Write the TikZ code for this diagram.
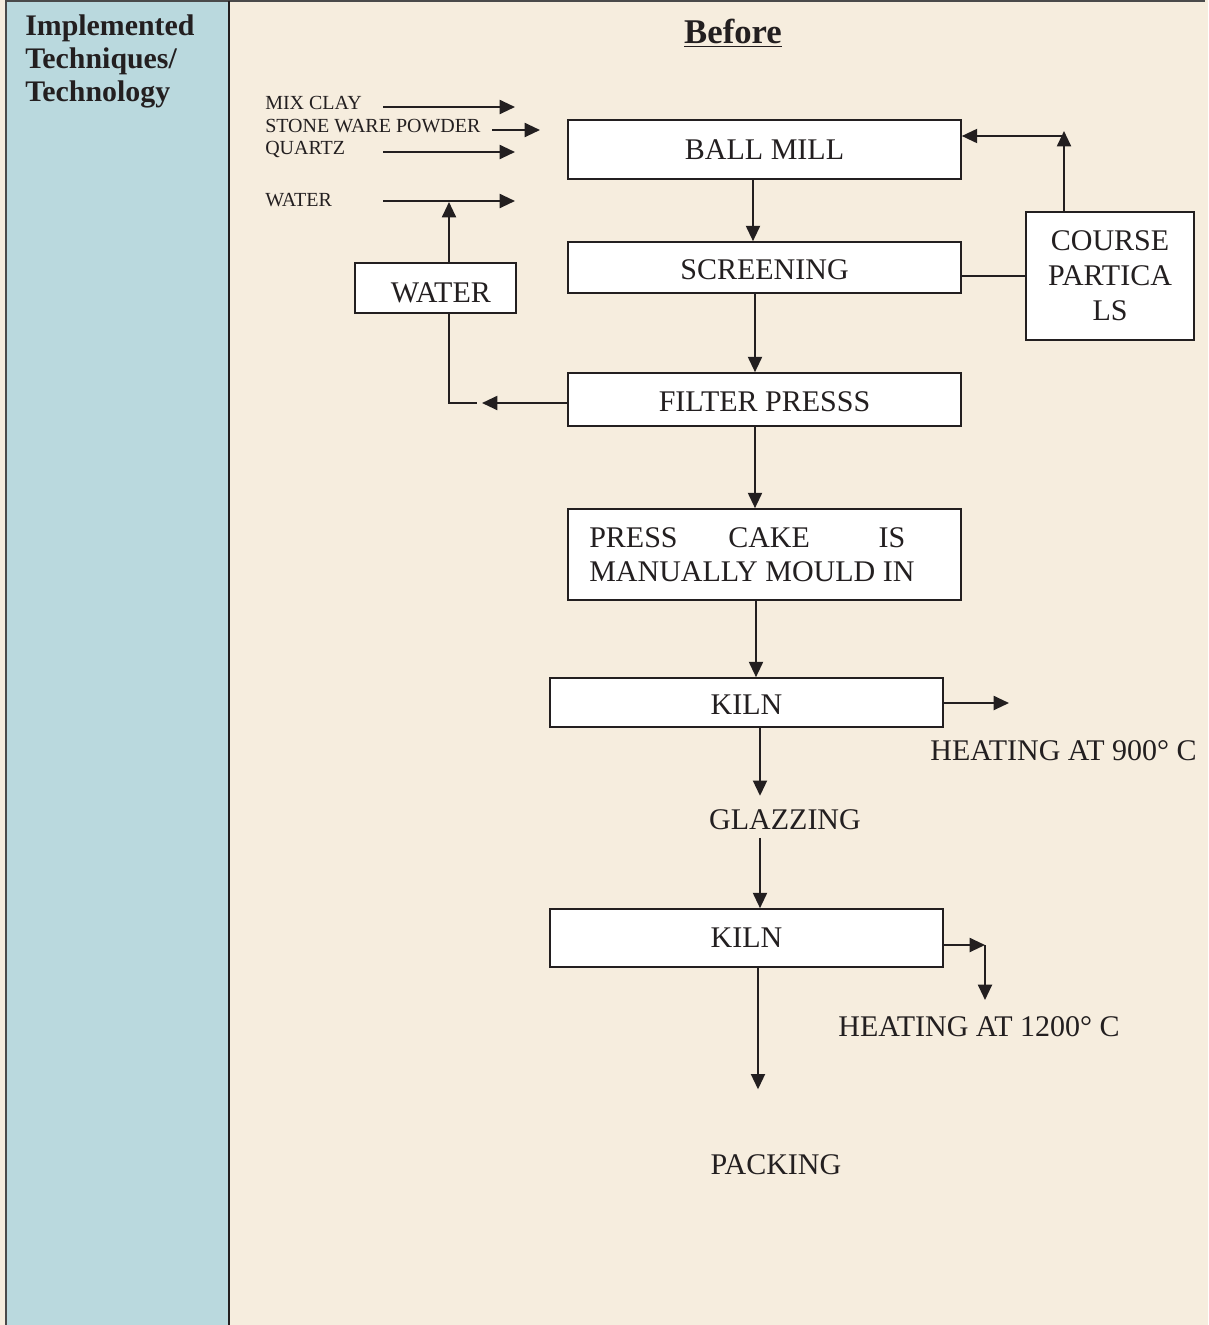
\documentclass[tikz,border=0pt]{standalone}
\usepackage{fontspec}
\setmainfont{Liberation Serif}
\usetikzlibrary{arrows.meta}
\definecolor{bg}{HTML}{F6EDDE}
\definecolor{side}{HTML}{BAD9DE}
\definecolor{ink}{HTML}{231F20}
\definecolor{rule}{HTML}{4A4A4A}
\begin{document}
\begin{tikzpicture}[x=0.75pt,y=-0.75pt,
  proc/.style={draw=ink, line width=1.2pt, fill=white, inner sep=0pt, text=ink,
    font=\fontsize{22.5}{26}\selectfont},
  one/.style={text height=18pt, text depth=0pt},
  lbl/.style={inner sep=0pt, text=ink, font=\fontsize{22.5}{26}\selectfont},
  small/.style={inner sep=0pt, text=ink, anchor=west, font=\fontsize{15}{17}\selectfont},
  flow/.style={draw=ink, line width=1.5pt, -{Triangle[length=11.5pt,width=10.5pt]}},
  plain/.style={draw=ink, line width=1.2pt}]
\useasboundingbox (0,0) rectangle (1208,1325);
\fill[bg] (0,0) rectangle (1208,1325);
\fill[side] (6,1) rectangle (229,1325);
\draw[rule, line width=1.5pt] (6,1325) -- (6,1) -- (1205,1);
\draw[ink, line width=1.2pt] (229,1) -- (229,1325);

% headers
\node[anchor=north west, align=left, inner sep=0pt, text=ink,
  font=\bfseries\fontsize{22.4}{24.75}\selectfont] (head) at (25,15)
  {Implemented\\Techniques/\\Technology};
\node[lbl, font=\bfseries\fontsize{26}{30}\selectfont] (before) at (733,33) {\underline{Before}};

% input labels
\node[small] (mix) at (265,103) {MIX CLAY};
\node[small] (stone) at (265,126) {STONE WARE POWDER};
\node[small] (quartz) at (265,149) {QUARTZ};
\node[small] (waterlbl) at (265,200) {WATER};

% process boxes
\node[proc, minimum width=294.75pt, minimum height=44.25pt] (ball) at (764.5,149.5) {BALL MILL};
\node[proc, one, minimum width=294.75pt, minimum height=38.25pt] (screen) at (764.5,267.5) {SCREENING};
\node[proc, one, minimum width=120.75pt, minimum height=37.5pt] (waterbox) at (435.5,288) {\raisebox{-2pt}{\hspace{8pt}WATER}};
\node[proc, minimum width=126pt, minimum height=96pt, align=center,
  font=\fontsize{22.5}{26.25}\selectfont] (course) at (1110,276) {COURSE\\PARTICA\\LS};
\node[proc, one, minimum width=294.75pt, minimum height=39.75pt] (filter) at (764.5,399.5) {FILTER PRESSS};
\node[proc, minimum width=294.75pt, minimum height=68.25pt] (press) at (764.5,554.5) {};
\node[lbl, anchor=west, align=left, font=\fontsize{22.5}{25.5}\selectfont] (presstext) at (589,555)
  {\makebox[237pt][s]{PRESS\hspace{38pt}CAKE\hfill IS}\\MANUALLY MOULD IN};
\node[proc, one, minimum width=294.75pt, minimum height=36.75pt] (kiln1) at (746.5,702.5) {KILN};
\node[lbl] (glaze) at (785,819.5) {GLAZZING};
\node[proc, minimum width=294.75pt, minimum height=43.5pt] (kiln2) at (746.5,938) {KILN};
\node[lbl] (heat1) at (1063.5,750.5) {HEATING AT 900° C};
\node[lbl] (heat2) at (979,1027) {HEATING AT 1200° C};
\node[lbl] (pack) at (776,1165) {PACKING};

% helper coordinates
\coordinate (s1) at (383,0);
\coordinate (s2) at (492,0);
\coordinate (e1) at (515,107);
\coordinate (e2) at (540,130);
\coordinate (e3) at (515,152);
\coordinate (e4) at (515,201);
\coordinate (wx) at (449,0);
\coordinate (wup) at (449,202);
\coordinate (fy) at (0,403);
\coordinate (wtip) at (482,403);
\coordinate (wend) at (477,403);
\coordinate (sy) at (0,276);
\coordinate (cx) at (1064,0);
\coordinate (ctop) at (1064,131);
\coordinate (cy) at (0,136);
\coordinate (xa) at (753,0);
\coordinate (xb) at (755,0);
\coordinate (xc) at (756,0);
\coordinate (xd) at (760,0);
\coordinate (xe) at (758,0);
\coordinate (h1) at (1009,703);
\coordinate (h2) at (985,945);
\coordinate (h2b) at (985,1000);

% inputs
\draw[flow] (s1 |- e1) -- (e1);
\draw[flow] (s2 |- e2) -- (e2);
\draw[flow] (s1 |- e3) -- (e3);
\draw[flow] (s1 |- e4) -- (e4);
\draw[flow] (waterbox.north -| wx) -- (wup);

% main flow
\draw[flow] (ball.south -| xa) -- (screen.north -| xa);
\draw[flow] (screen.south -| xb) -- (filter.north -| xb);
\draw[flow] (filter.south -| xb) -- (press.north -| xb);
\draw[flow] (press.south -| xc) -- (kiln1.north -| xc);
\draw[flow, shorten >=10pt] (kiln1.south -| xd) -- (glaze.north -| xd);
\draw[flow, shorten <=6pt] (glaze.south -| xd) -- (kiln2.north -| xd);
\draw[flow, shorten >=49pt] (kiln2.south -| xe) -- (pack.north -| xe);

% side flows
\draw[flow] (filter.west |- fy) -- (wtip);
\draw[plain] (waterbox.south -| wx) |- (wend);
\draw[plain] (screen.east |- sy) -- (course.west |- sy);
\draw[flow] (course.north -| cx) -- (ctop);
\draw[flow] (cx |- cy) -- (ball.east |- cy);
\draw[flow] (kiln1.east |- h1) -- (h1);
\draw[flow] (kiln2.east |- h2) -- (h2);
\draw[flow] (h2) -- (h2b);
\end{tikzpicture}
\end{document}
